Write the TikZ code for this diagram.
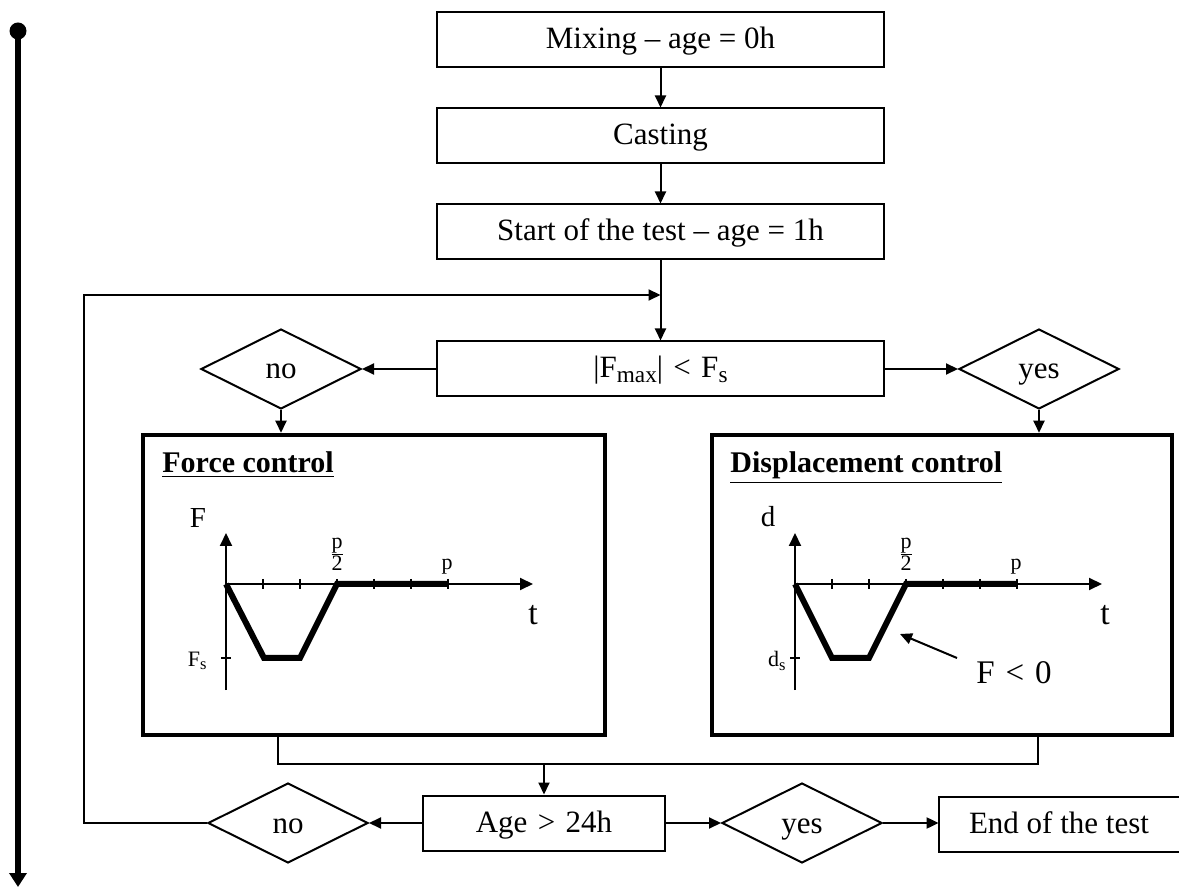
\documentclass[tikz,border=0pt]{standalone}
\usepackage{fontspec}
\usepackage{graphicx}
\setmainfont{Liberation Serif}
\usetikzlibrary{shapes.geometric,arrows.meta}
\newcommand\mysub[1]{\raisebox{-0.35ex}{\scalebox{0.75}{#1}}}
\begin{document}
\begin{tikzpicture}[x=0.5pt,y=-0.5pt,
  box/.style={draw,line width=1pt,rectangle,inner sep=0pt,minimum width=223.5pt,minimum height=27.5pt,text height=11pt,text depth=2pt,font=\fontsize{15.5}{18}\selectfont},
  dec/.style={draw,line width=1pt,diamond,inner sep=0pt,minimum width=80pt,minimum height=40pt,text height=11pt,text depth=1pt,font=\fontsize{15.5}{18}\selectfont},
  bigbox/.style={draw,line width=2.25pt,rectangle,inner sep=0pt,minimum height=150pt},
  conn/.style={line width=1pt,-{Triangle[length=6pt,width=5.5pt]}},
  ln/.style={line width=1pt},
  axis/.style={line width=1pt,-{Triangle[length=6.5pt,width=6pt]}},
  curve/.style={line width=3pt},
  tick/.style={line width=1pt},
  title/.style={anchor=base west,inner sep=0pt,font=\fontsize{15}{18}\selectfont\bfseries},
  lbl/.style={inner sep=0pt,font=\fontsize{14.5}{16}\selectfont},
  slbl/.style={inner sep=0pt,font=\fontsize{11}{12}\selectfont},
  tlbl/.style={inner sep=0pt,font=\fontsize{17}{20}\selectfont},
]
\useasboundingbox (0,0) rectangle (1179,887);

% timeline
\coordinate (tl1) at (18,31);
\coordinate (tl2) at (18,887);
\draw[line width=3pt,-{Triangle[length=7pt,width=8.5pt]}] (tl1) -- (tl2);
\fill (tl1) circle[radius=4.25pt];

% top boxes
\node[box] (mix) at (660.5,40) {Mixing -- age = 0h};
\node[box] (cast) at (660.5,136) {Casting};
\node[box] (start) at (660.5,232) {Start of the test -- age = 1h};
\node[box] (fmax) at (660.5,369) {|F\mysub{max}|\,\,<\,\,F\mysub{s}};
\node[dec] (no1) at (281,369) {no};
\node[dec] (yes1) at (1039,369) {yes};

\draw[conn] (mix.south) -- (cast.north);
\draw[conn] (cast.south) -- (start.north);
\draw[conn] (start.south) -- (fmax.north);
\draw[conn] (fmax.west) -- (no1.east);
\draw[conn] (fmax.east) -- (yes1.west);

% big boxes
\node[bigbox,minimum width=231pt] (force) at (374,585) {};
\node[bigbox,minimum width=230pt] (disp) at (942,585) {};
\draw[conn] (no1.south) -- (no1.south |- force.north);
\draw[conn] (yes1.south) -- (yes1.south |- disp.north);

\node[title] (ftitle) at (162,473) {\underline{Force control}};
\node[title] (dtitle) at (730,473) {\underline{Displacement control}};

% force control graph
\draw[axis] (226,690) -- (226,533);
\draw[axis] (226,584) -- (533,584);
\foreach \k in {1,...,6} {\draw[tick] (226+37*\k,579) -- (226+37*\k,589);}
\draw[tick] (221,658) -- (231,658);
\draw[curve] (226,584) -- (264,658) -- (300,658) -- (337,584) -- (448,584);
\node[lbl] (fF) at (198,518) {F};
\node[slbl] (fp2) at (337,554) {$\hbox{p}\over\hbox{2}$};
\node[slbl] (fp) at (447,567) {p};
\node[tlbl] (ft) at (533,615) {t};
\node[slbl,anchor=east] (fFs) at (207,661) {F\mysub{s}};

% displacement control graph
\draw[axis] (795,690) -- (795,533);
\draw[axis] (795,584) -- (1102,584);
\foreach \k in {1,...,6} {\draw[tick] (795+37*\k,579) -- (795+37*\k,589);}
\draw[tick] (790,658) -- (800,658);
\draw[curve] (795,584) -- (832,658) -- (869,658) -- (906,584) -- (1017,584);
\node[lbl] (dd) at (768,517) {d};
\node[slbl] (dp2) at (906,554) {$\hbox{p}\over\hbox{2}$};
\node[slbl] (dp) at (1016,567) {p};
\node[tlbl] (dt) at (1105,615) {t};
\node[slbl,anchor=east] (dds) at (786,661) {d\mysub{s}};
\coordinate (fa1) at (957,658);
\coordinate (fa2) at (900,634);
\draw[conn] (fa1) -- (fa2);
\node[inner sep=0pt,font=\fontsize{16.5}{18}\selectfont] (fneg) at (1014,673) {F\,\,<\,\,0};

% merge
\coordinate (ml) at (278,764);
\coordinate (mr) at (1038,764);
\coordinate (mm) at (544,764);
\draw[ln] (ml |- force.south) -- (ml) -- (mr) -- (mr |- disp.south);

% bottom row
\node[box,minimum width=121pt] (age) at (544,823) {Age\,\,>\,\,24h};
\node[dec] (no2) at (288,823) {no};
\node[dec] (yes2) at (802,823) {yes};
\node[inner sep=0pt,minimum width=120pt,minimum height=27.5pt,text height=11pt,text depth=2pt,font=\fontsize{15.5}{18}\selectfont] (end) at (1059,824.5) {End of the test};
\draw[ln] (end.north east) -- (end.north west) -- (end.south west) -- (end.south east);

\draw[conn] (mm) -- (age.north);
\draw[conn] (age.west) -- (no2.east);
\draw[conn] (age.east) -- (yes2.west);
\draw[conn] (yes2.east) -- (yes2.east -| end.west);

% loop back
\coordinate (lb) at (84,823);
\coordinate (lt) at (84,295);
\coordinate (lj) at (660.5,295);
\draw[conn] (no2.west) -- (lb) -- (lt) -- (lj);
\end{tikzpicture}
\end{document}
